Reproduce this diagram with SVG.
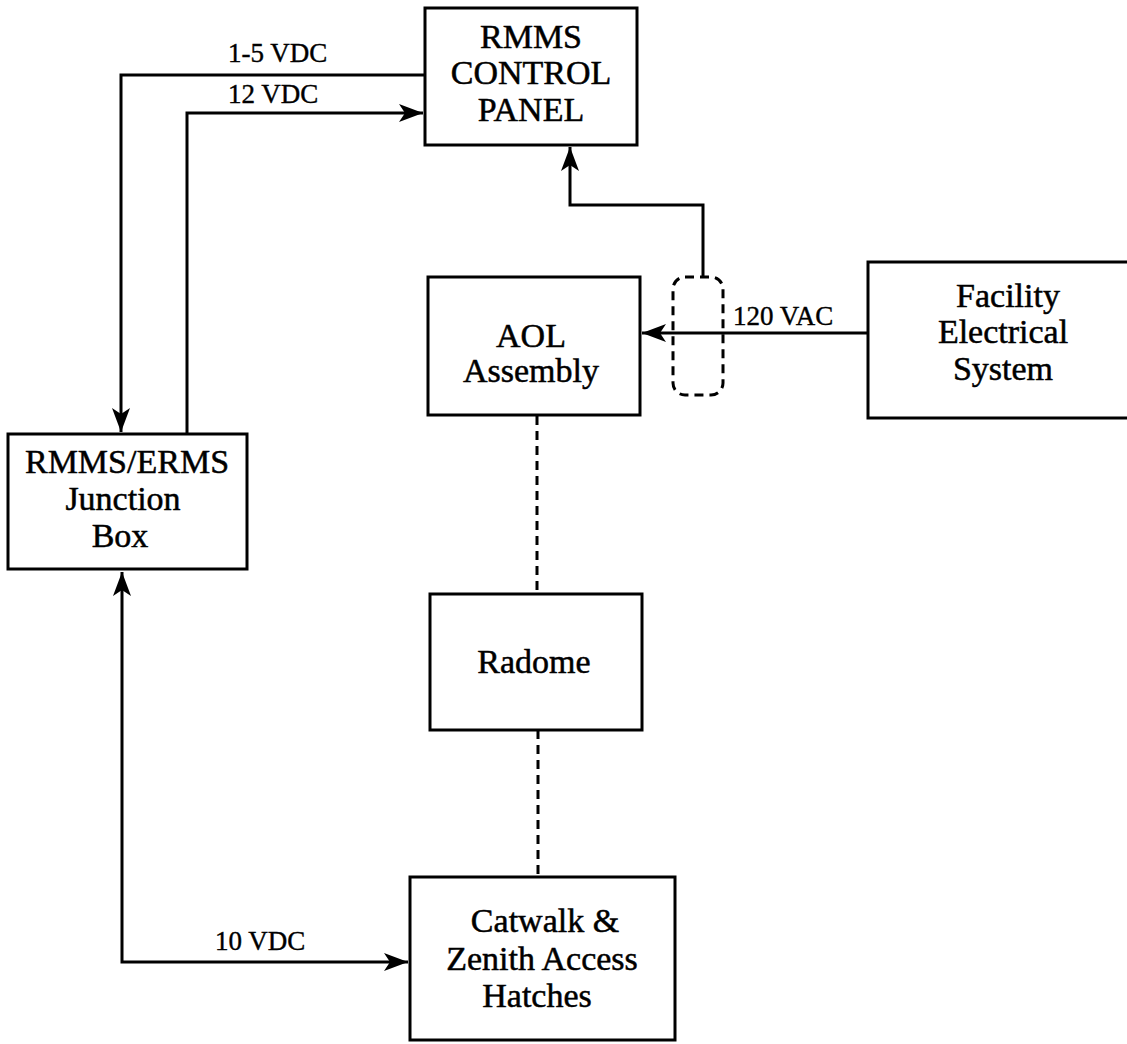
<svg xmlns="http://www.w3.org/2000/svg" width="1127" height="1044" viewBox="0 0 1127 1044">
<style>
.box{fill:#fff;stroke:#000;stroke-width:3}
.t{font-family:"Liberation Serif","Times New Roman",serif;font-size:34px;fill:#000;stroke:#000;stroke-width:0.5;text-anchor:middle}
.lbl{font-family:"Liberation Serif","Times New Roman",serif;font-size:27px;fill:#000;stroke:#000;stroke-width:0.4}
.wire{fill:none;stroke:#000;stroke-width:3}
.dash{fill:none;stroke:#000;stroke-width:3;stroke-dasharray:9 6}
</style>
<defs>
<marker id="arr" viewBox="0 0 24 18" refX="24" refY="9" markerWidth="24" markerHeight="18" markerUnits="userSpaceOnUse" orient="auto-start-reverse">
<path d="M0,0 L24,9 L0,18 L6,9 Z" fill="#000"/>
</marker>
</defs>
<rect width="1127" height="1044" fill="#fff"/>
<g id="connectors">
<path class="wire" d="M425,75 H121 V432" marker-end="url(#arr)"/>
<path class="wire" d="M187,434 V113 H423" marker-end="url(#arr)"/>
<path class="wire" d="M122,572 V962 H408" marker-start="url(#arr)" marker-end="url(#arr)"/>
<path class="wire" d="M868,333 H642" marker-end="url(#arr)"/>
<path class="wire" d="M703,277 V205 H570 V147" marker-end="url(#arr)"/>
<path class="dash" d="M537,416 V594"/>
<path class="dash" d="M538,730 V877"/>
<rect class="dash" x="673" y="277" width="50" height="118" rx="12"/>
<text class="lbl" x="228" y="62">1-5 VDC</text>
<text class="lbl" x="228" y="103">12 VDC</text>
<text class="lbl" x="215" y="950">10 VDC</text>
<text class="lbl" x="733" y="325">120 VAC</text>
</g>
<g id="control-panel">
<rect class="box" x="425" y="8" width="212" height="137"/>
<text class="t" x="531" y="48">RMMS</text>
<text class="t" x="531" y="84">CONTROL</text>
<text class="t" x="531" y="121">PANEL</text>
</g>
<g id="junction-box">
<rect class="box" x="8" y="434" width="239" height="135"/>
<text class="t" x="127" y="473">RMMS/ERMS</text>
<text class="t" x="123" y="510">Junction</text>
<text class="t" x="120" y="547">Box</text>
</g>
<g id="aol-assembly">
<rect class="box" x="428" y="277" width="212" height="138"/>
<text class="t" x="531" y="347">AOL</text>
<text class="t" x="531" y="382">Assembly</text>
</g>
<g id="facility">
<rect class="box" x="868" y="262" width="275" height="156"/>
<text class="t" x="1008" y="307">Facility</text>
<text class="t" x="1003" y="343">Electrical</text>
<text class="t" x="1003" y="380">System</text>
</g>
<g id="radome">
<rect class="box" x="430" y="594" width="212" height="136"/>
<text class="t" x="534" y="673">Radome</text>
</g>
<g id="catwalk">
<rect class="box" x="410" y="877" width="265" height="163"/>
<text class="t" x="545" y="932">Catwalk &amp;</text>
<text class="t" x="542" y="970">Zenith Access</text>
<text class="t" x="537" y="1007">Hatches</text>
</g>
</svg>
